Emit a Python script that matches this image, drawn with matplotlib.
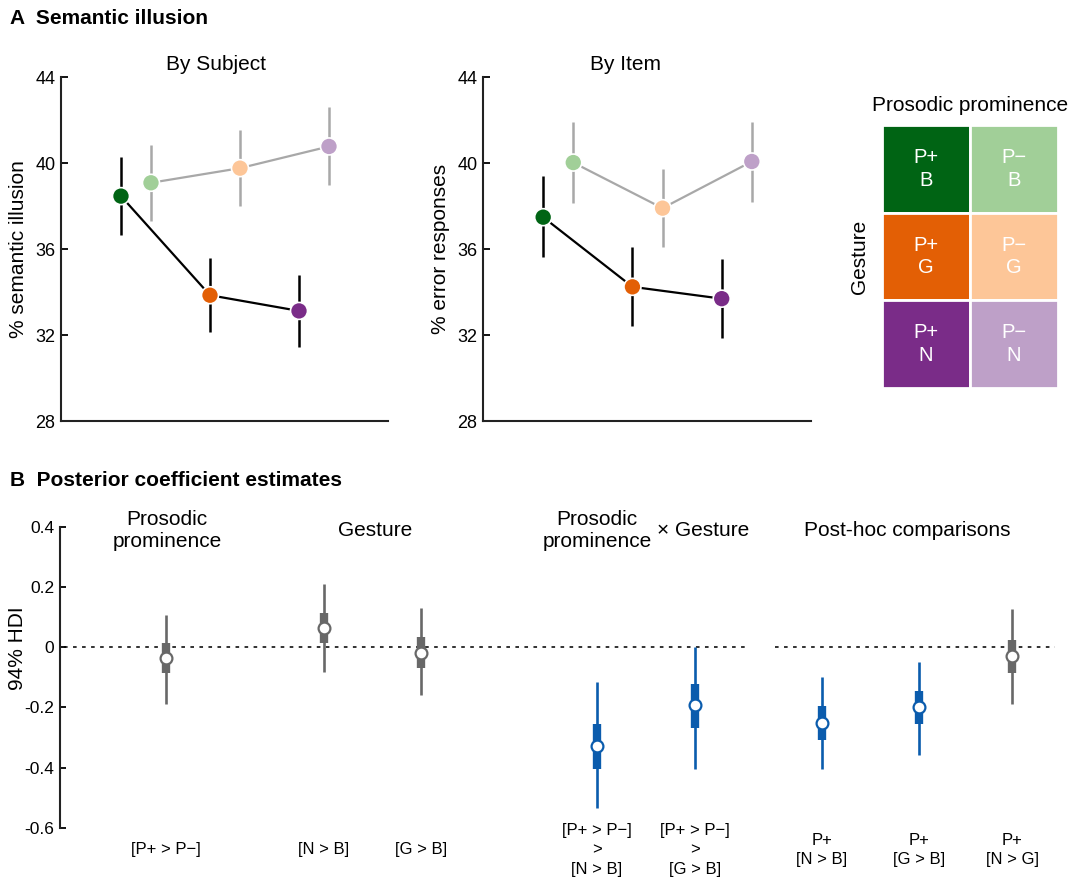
import numpy as np
import matplotlib
matplotlib.use('Agg')
from matplotlib import pyplot as plt
from matplotlib.patches import Rectangle

plt.rcParams['font.family'] = ['Liberation Sans', 'DejaVu Sans']

# Panel A: condition means with error bars (B, G, N)
gesture = ['B', 'G', 'N']
subj_pplus = [38.46, 33.85, 33.12]
subj_pplus_lo = [36.66, 32.13, 31.45]
subj_pplus_hi = [40.26, 35.56, 34.78]
subj_pminus = [39.08, 39.76, 40.77]
subj_pminus_lo = [37.31, 38.01, 38.97]
subj_pminus_hi = [40.85, 41.53, 42.59]

item_pplus = [37.48, 34.24, 33.69]
item_pplus_lo = [35.62, 32.44, 31.86]
item_pplus_hi = [39.38, 36.07, 35.53]
item_pminus = [40.02, 37.90, 40.07]
item_pminus_lo = [38.15, 36.08, 38.18]
item_pminus_hi = [41.91, 39.71, 41.93]

# Panel B: posterior estimates
contrasts = ['[P+ > P\u2212]', '[N > B]', '[G > B]',
             '[P+ > P\u2212]\n>\n[N > B]', '[P+ > P\u2212]\n>\n[G > B]',
             'P+\n[N > B]', 'P+\n[G > B]', 'P+\n[N > G]']
post_mean = [-0.035, 0.062, -0.019, -0.328, -0.193, -0.251, -0.199, -0.031]
hdi_lo = [-0.188, -0.084, -0.159, -0.534, -0.406, -0.406, -0.357, -0.188]
hdi_hi = [0.106, 0.209, 0.131, -0.116, 0.0, -0.100, -0.051, 0.128]
iqr_lo = [-0.087, 0.012, -0.070, -0.406, -0.268, -0.307, -0.255, -0.087]
iqr_hi = [0.014, 0.114, 0.032, -0.256, -0.121, -0.196, -0.146, 0.023]
credible = [False, False, False, True, True, True, True, False]

c_pplus = ['#006414', '#e35f05', '#7a2c88']
c_pminus = ['#a1cf98', '#fdc698', '#bea0c8']
GRAY_LINE = '#a8a8a8'
BLUE = '#0b5cad'
DARKGRAY = '#686868'

fig = plt.figure(figsize=(10.74, 8.77), dpi=100)

def cond_panel(rect, pplus, plo, phi, pminus, mlo, mhi, ylabel, title, tx):
    ax = fig.add_axes(rect)
    x = np.arange(3)
    xm = x + 0.337
    ax.plot(x, pplus, color='black', lw=1.6, zorder=1)
    ax.plot(xm, pminus, color=GRAY_LINE, lw=1.6, zorder=1)
    ax.vlines(x, plo, phi, color='black', lw=1.8, zorder=1)
    ax.vlines(xm, mlo, mhi, color=GRAY_LINE, lw=1.8, zorder=1)
    ax.scatter(x, pplus, s=150, c=c_pplus, edgecolors='white', linewidths=1.2, zorder=3)
    ax.scatter(xm, pminus, s=150, c=c_pminus, edgecolors='white', linewidths=1.2, zorder=3)
    ax.set_xlim(-0.674, 3.0)
    ax.set_ylim(28, 44)
    ax.set_yticks([28, 32, 36, 40, 44])
    ax.set_xticks([])
    ax.tick_params(axis='y', direction='in', length=5, width=1.3, labelsize=13, pad=4)
    for s in ['top', 'right']:
        ax.spines[s].set_visible(False)
    for s in ['left', 'bottom']:
        ax.spines[s].set_linewidth(1.5)
        ax.spines[s].set_color('#222222')
    ax.set_ylabel(ylabel, fontsize=15)
    ax.yaxis.set_label_coords(-0.101, 0.5)
    ax.text(tx, 1.035, title, transform=ax.transAxes, ha='center', va='center', fontsize=15)
    return ax

cond_panel([61/1074, 1 - 421/877, 327/1074, 344/877], subj_pplus, subj_pplus_lo, subj_pplus_hi,
           subj_pminus, subj_pminus_lo, subj_pminus_hi, '% semantic illusion', 'By Subject', 0.474)
cond_panel([483/1074, 1 - 421/877, 328/1074, 344/877], item_pplus, item_pplus_lo, item_pplus_hi,
           item_pminus, item_pminus_lo, item_pminus_hi, '% error responses', 'By Item', 0.433)

# legend grid
axg = fig.add_axes([882/1074, 1 - 388/877, 176/1074, 263/877])
for r in range(3):
    for c, cols in enumerate([c_pplus, c_pminus]):
        axg.add_patch(Rectangle((c, r), 1, 1, facecolor=cols[r], edgecolor='white', lw=2))
        lab = ('P+' if c == 0 else 'P\u2212') + '\n' + gesture[r]
        axg.text(c + 0.5, r + 0.5, lab, color='white', ha='center', va='center', fontsize=14.5,
                 linespacing=1.25)
axg.set_xlim(0, 2)
axg.set_ylim(3, 0)
axg.axis('off')
axg.text(0.5, 1.076, 'Prosodic prominence', transform=axg.transAxes, ha='center', va='center', fontsize=15)
axg.text(-0.125, 0.498, 'Gesture', transform=axg.transAxes, ha='center', va='center', fontsize=15,
         rotation=90)

fig.text(10/1074, 1 - 18/877, 'A  Semantic illusion', fontsize=15, fontweight='bold', va='center')
fig.text(10/1074, 1 - 480/877, 'B  Posterior coefficient estimates', fontsize=15, fontweight='bold',
         va='center')

# Panel B
axb = fig.add_axes([60/1074, 1 - 827.7/877, 1000/1074, 301/877])
xpos = [1.057, 2.64, 3.61, 5.37, 6.35, 7.62, 8.59, 9.52]
axb.hlines(0, 0.04, 6.89, color='#222222', lw=1.3, linestyles=(0, (2, 3)), zorder=0)
axb.hlines(0, 7.15, 9.95, color='#222222', lw=1.3, linestyles=(0, (2, 3)), zorder=0)
for i, xp in enumerate(xpos):
    col = BLUE if credible[i] else DARKGRAY
    axb.vlines(xp, hdi_lo[i], hdi_hi[i], color=col, lw=1.9, zorder=1)
    axb.vlines(xp, iqr_lo[i], iqr_hi[i], color=col, lw=6.0, zorder=2)
    axb.plot(xp, post_mean[i], 'o', ms=8.5, mfc='white', mec=col, mew=1.6, zorder=3)
    axb.text(xp, -0.674, contrasts[i], ha='center', va='center', fontsize=12, linespacing=1.38,
             clip_on=False)
axb.set_xlim(0, 10)
axb.set_ylim(-0.6, 0.4)
axb.set_yticks([0.4, 0.2, 0, -0.2, -0.4, -0.6])
axb.set_yticklabels(['0.4', '0.2', '0', '-0.2', '-0.4', '-0.6'])
axb.set_xticks([])
axb.tick_params(axis='y', direction='in', length=4, width=1.3, labelsize=12.5, pad=4)
for s in ['top', 'right', 'bottom']:
    axb.spines[s].set_visible(False)
axb.spines['left'].set_linewidth(1.5)
axb.spines['left'].set_color('#222222')
axb.set_ylabel('94% HDI', fontsize=15)
axb.yaxis.set_label_coords(-0.033, 0.597)

tr = axb.get_xaxis_transform()
axb.text(1.07, 0.986, 'Prosodic\nprominence', transform=tr, ha='center', va='center', fontsize=15)
axb.text(3.15, 0.986, 'Gesture', transform=tr, ha='center', va='center', fontsize=15)
axb.text(5.37, 0.986, 'Prosodic\nprominence', transform=tr, ha='center', va='center', fontsize=15)
axb.text(6.43, 0.986, '\u00d7 Gesture', transform=tr, ha='center', va='center', fontsize=15)
axb.text(8.47, 0.986, 'Post-hoc comparisons', transform=tr, ha='center', va='center', fontsize=15)

fig.savefig('out.png', dpi=100)
